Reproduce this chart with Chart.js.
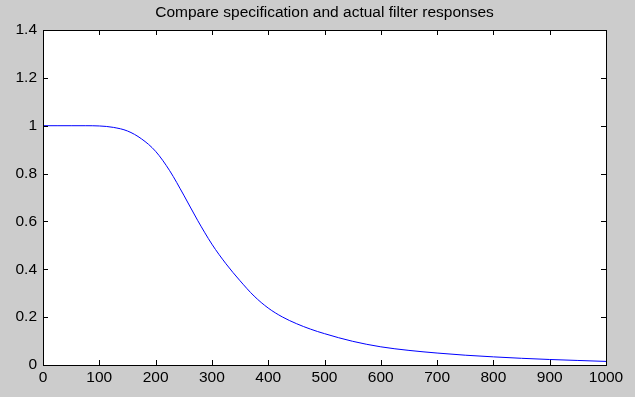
<!DOCTYPE html>
<html>
<head>
<meta charset="utf-8">
<title>Filter responses</title>
<script src="https://cdn.jsdelivr.net/npm/chart.js@4.4.1/dist/chart.umd.min.js"></script>
<style>
  html, body { margin: 0; padding: 0; background: #cccccc; }
  #wrap { width: 635px; height: 397px; }
</style>
</head>
<body>
<div id="wrap"><canvas id="filterChart" width="635" height="397"></canvas></div>
<script>
// values
var freqs = [0, 25, 50, 75, 100, 125, 150, 175, 200, 225, 250, 275, 300, 325, 350, 375, 400,
             425, 450, 475, 500, 550, 600, 650, 700, 750, 800, 850, 900, 950, 1000];
var response = [1.0, 1.0, 1.0, 1.0, 0.999, 0.993, 0.978, 0.945, 0.893, 0.812, 0.71, 0.603, 0.505,
                0.423, 0.352, 0.288, 0.238, 0.201, 0.173, 0.150, 0.131, 0.099, 0.076, 0.061, 0.050,
                0.041, 0.034, 0.028, 0.023, 0.019, 0.015];
var xTicks = [0, 100, 200, 300, 400, 500, 600, 700, 800, 900, 1000];
var yTicks = [0, 0.2, 0.4, 0.6, 0.8, 1, 1.2, 1.4];

var titleFont = { family: 'Arial, "Liberation Sans", sans-serif', size: 15.5, weight: 'normal' };
var tickFont = { family: 'Arial, "Liberation Sans", sans-serif', size: 15.5, weight: 'normal' };

// matlab style box with inward ticks
var boxTicks = {
  id: 'boxTicks',
  afterDraw: function(chart) {
    var ctx = chart.ctx, a = chart.chartArea;
    var xs = chart.scales.x, ys = chart.scales.y;
    var len = 5, i, p;
    ctx.save();
    ctx.strokeStyle = '#000';
    ctx.lineWidth = 1;
    ctx.beginPath();
    for (i = 0; i < xs.ticks.length; i++) {
      p = Math.round(xs.getPixelForValue(xs.ticks[i].value)) + 0.5;
      ctx.moveTo(p, a.bottom); ctx.lineTo(p, a.bottom - len);
      ctx.moveTo(p, a.top); ctx.lineTo(p, a.top + len);
    }
    for (i = 0; i < ys.ticks.length; i++) {
      p = Math.round(ys.getPixelForValue(ys.ticks[i].value)) + 0.5;
      ctx.moveTo(a.left, p); ctx.lineTo(a.left + len, p);
      ctx.moveTo(a.right, p); ctx.lineTo(a.right - len, p);
    }
    ctx.stroke();
    ctx.strokeRect(Math.round(a.left) + 0.5, Math.round(a.top) + 0.5,
                   Math.round(a.right - a.left), Math.round(a.bottom - a.top));
    ctx.restore();
  }
};

var whiteArea = {
  id: 'whiteArea',
  beforeDraw: function(chart) {
    var ctx = chart.ctx, a = chart.chartArea;
    ctx.save();
    ctx.fillStyle = '#cccccc';
    ctx.fillRect(0, 0, chart.width, chart.height);
    ctx.fillStyle = '#ffffff';
    ctx.fillRect(a.left, a.top, a.right - a.left, a.bottom - a.top);
    ctx.restore();
  }
};

var ctx = document.getElementById('filterChart').getContext('2d');
var chart = new Chart(ctx, {
  type: 'line',
  data: {
    datasets: [{
      data: freqs.map(function(f, i) { return { x: f, y: response[i] }; }),
      borderColor: '#0000ff',
      borderWidth: 1,
      pointRadius: 0,
      fill: false,
      cubicInterpolationMode: 'monotone'
    }]
  },
  options: {
    responsive: false,
    animation: false,
    layout: { padding: { left: 0, right: 29, top: 0, bottom: 0 } },
    plugins: {
      legend: { display: false },
      tooltip: { enabled: false },
      title: {
        display: true,
        fullSize: false, // centre over the plot box, not the canvas
        text: 'Compare specification and actual filter responses',
        color: '#000',
        font: titleFont,
        padding: { top: 3, bottom: 8.4 }
      }
    },
    scales: {
      x: {
        type: 'linear',
        min: 0, max: 1000,
        afterBuildTicks: function(s) { s.ticks = xTicks.map(function(v) { return { value: v }; }); },
        afterFit: function(s) { s.height = 32; s.paddingLeft = 0; s.paddingRight = 0; },
        grid: { display: false, drawTicks: false },
        border: { display: false },
        ticks: {
          color: '#000', font: tickFont, padding: 3, maxRotation: 0,
          callback: function(v) { return String(v); }
        }
      },
      y: {
        type: 'linear',
        min: 0, max: 1.4,
        afterBuildTicks: function(s) { s.ticks = yTicks.map(function(v) { return { value: v }; }); },
        afterFit: function(s) { s.width = 43; s.paddingTop = 0; s.paddingBottom = 0; },
        grid: { display: false, drawTicks: false },
        border: { display: false },
        ticks: {
          color: '#000', font: tickFont, padding: 6,
          callback: function(v) { return String(Math.round(v * 10) / 10); }
        }
      }
    }
  },
  plugins: [whiteArea, boxTicks]
});
</script>
</body>
</html>
